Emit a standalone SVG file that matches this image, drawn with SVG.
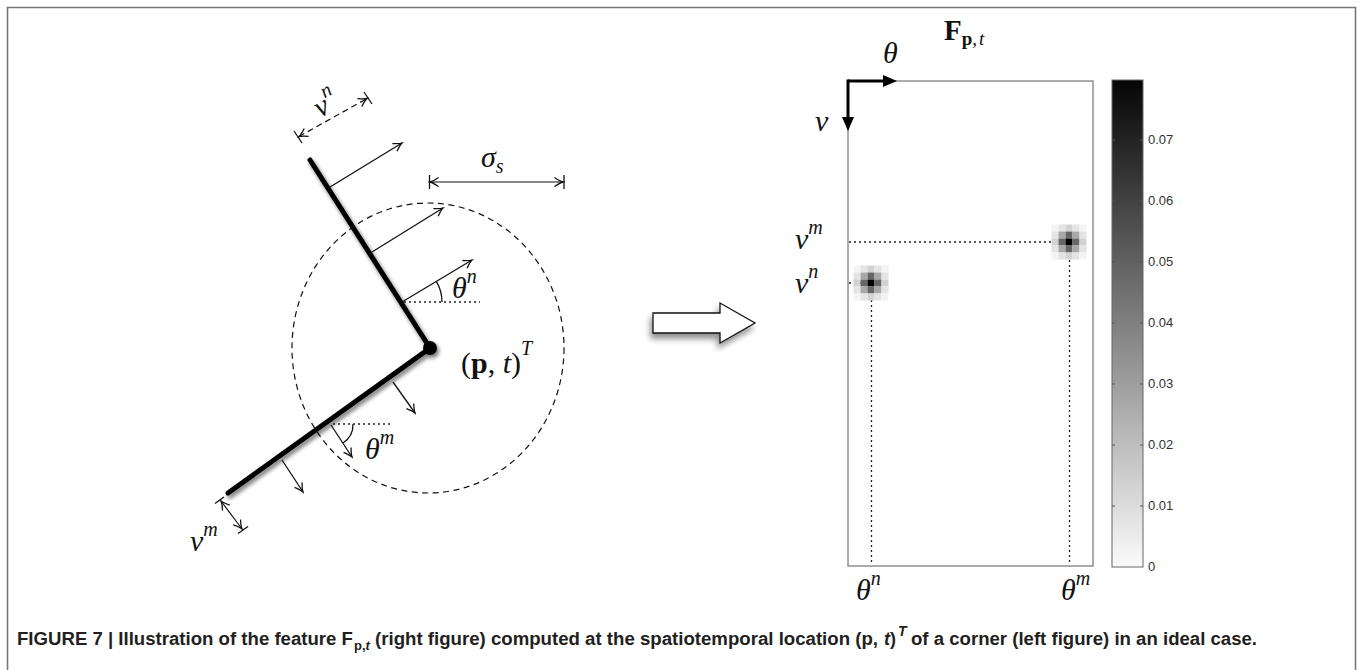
<svg xmlns="http://www.w3.org/2000/svg" width="1360" height="670" viewBox="0 0 1360 670">
<style>
.math{font-family:"Liberation Serif","DejaVu Serif",serif;font-style:italic;font-size:30px;fill:#111}
.sup{font-size:20px}
.thin{stroke:#111;stroke-width:1.3;fill:none}
.arr{stroke:#111;stroke-width:1.3;fill:none;marker-end:url(#head)}
.dbl{stroke:#111;stroke-width:1.2;fill:none;marker-start:url(#head);marker-end:url(#head)}
.dot{stroke:#222;stroke-width:1.3;fill:none;stroke-dasharray:2,3}
.seg{stroke:#000;stroke-width:5;stroke-linecap:round;fill:none}
.tick{font-family:"Liberation Sans",Arial,sans-serif;font-size:13px;fill:#333}
.cap{font-family:"Liberation Sans",Arial,sans-serif;font-weight:bold;fill:#231f20}
</style>
<defs>
<marker id="head" viewBox="-10 -6 12 12" refX="0" refY="0" markerWidth="12" markerHeight="12" markerUnits="userSpaceOnUse" orient="auto-start-reverse">
<path d="M-8.5,-4.5 Q-3,-0.8 0,0 Q-3,0.8 -8.5,4.5" stroke="#111" stroke-width="1.3" fill="none"/>
</marker>
<marker id="bighead" viewBox="0 -6 14 12" refX="1" refY="0" markerWidth="14" markerHeight="12" markerUnits="userSpaceOnUse" orient="auto">
<path d="M0,-6 L14,0 L0,6 Z" fill="#000"/>
</marker>
<filter id="shadow" x="-20%" y="-20%" width="140%" height="140%">
<feGaussianBlur in="SourceAlpha" stdDeviation="2.2"/>
<feOffset dx="2" dy="3" result="b"/>
<feComponentTransfer><feFuncA type="linear" slope="0.55"/></feComponentTransfer>
<feMerge><feMergeNode/><feMergeNode in="SourceGraphic"/></feMerge>
</filter>
<filter id="shadow2" x="-20%" y="-40%" width="140%" height="190%">
<feGaussianBlur in="SourceAlpha" stdDeviation="3"/>
<feOffset dx="-2" dy="5"/>
<feComponentTransfer><feFuncA type="linear" slope="0.45"/></feComponentTransfer>
<feMerge><feMergeNode/><feMergeNode in="SourceGraphic"/></feMerge>
</filter>
<linearGradient id="cbar" x1="0" y1="0" x2="0" y2="1">
<stop offset="0" stop-color="#050505"/>
<stop offset="1" stop-color="#fbfbfb"/>
</linearGradient>
<g id="blob">
<rect x="-17.5" y="-17.5" width="7" height="7" fill="#f4f4f4"/>
<rect x="-10.5" y="-17.5" width="7" height="7" fill="#e4e4e4"/>
<rect x="-3.5" y="-17.5" width="7" height="7" fill="#d2d2d2"/>
<rect x="3.5" y="-17.5" width="7" height="7" fill="#e4e4e4"/>
<rect x="10.5" y="-17.5" width="7" height="7" fill="#f4f4f4"/>
<rect x="-17.5" y="-10.5" width="7" height="7" fill="#e4e4e4"/>
<rect x="-10.5" y="-10.5" width="7" height="7" fill="#a8a8a8"/>
<rect x="-3.5" y="-10.5" width="7" height="7" fill="#666"/>
<rect x="3.5" y="-10.5" width="7" height="7" fill="#a8a8a8"/>
<rect x="10.5" y="-10.5" width="7" height="7" fill="#e4e4e4"/>
<rect x="-17.5" y="-3.5" width="7" height="7" fill="#d2d2d2"/>
<rect x="-10.5" y="-3.5" width="7" height="7" fill="#666"/>
<rect x="-3.5" y="-3.5" width="7" height="7" fill="#000"/>
<rect x="3.5" y="-3.5" width="7" height="7" fill="#666"/>
<rect x="10.5" y="-3.5" width="7" height="7" fill="#d2d2d2"/>
<rect x="-17.5" y="3.5" width="7" height="7" fill="#e4e4e4"/>
<rect x="-10.5" y="3.5" width="7" height="7" fill="#a8a8a8"/>
<rect x="-3.5" y="3.5" width="7" height="7" fill="#666"/>
<rect x="3.5" y="3.5" width="7" height="7" fill="#a8a8a8"/>
<rect x="10.5" y="3.5" width="7" height="7" fill="#e4e4e4"/>
<rect x="-17.5" y="10.5" width="7" height="7" fill="#f4f4f4"/>
<rect x="-10.5" y="10.5" width="7" height="7" fill="#e4e4e4"/>
<rect x="-3.5" y="10.5" width="7" height="7" fill="#d2d2d2"/>
<rect x="3.5" y="10.5" width="7" height="7" fill="#e4e4e4"/>
<rect x="10.5" y="10.5" width="7" height="7" fill="#f4f4f4"/>
</g>
</defs>
<rect width="1360" height="670" fill="#fff"/>
<path d="M7.5,670 V7.5 H1355.5 V670" stroke="#777" stroke-width="1.6" fill="none"/>

<g id="corner">
<ellipse cx="428" cy="348" rx="136" ry="145" stroke="#111" stroke-width="1.2" fill="none" stroke-dasharray="6,4.5"/>
<g filter="url(#shadow)">
<path class="seg" d="M310,160 L430,348 L228,493"/>
<circle cx="430" cy="348" r="7" fill="#000"/>
</g>
</g>

<g id="normals-n">
<line class="arr" x1="330" y1="187" x2="402" y2="143"/>
<line class="arr" x1="372" y1="252" x2="443" y2="208"/>
<line class="arr" x1="402" y1="302" x2="472" y2="260"/>
<line class="dot" x1="404" y1="302" x2="480" y2="302"/>
<path class="thin" d="M442,302 A40,40 0 0 0 436.3,281.4"/>
<text class="math" x="452" y="298">θ<tspan class="sup" dy="-15">n</tspan></text>
</g>

<g id="normals-m">
<line class="arr" x1="393" y1="382" x2="415" y2="413"/>
<line class="arr" x1="331" y1="425" x2="352" y2="457"/>
<line class="arr" x1="282" y1="460" x2="303" y2="492"/>
<line class="dot" x1="333" y1="424" x2="391" y2="424"/>
<path class="thin" d="M353,424 A22,22 0 0 1 343,443"/>
<text class="math" x="365" y="459">θ<tspan class="sup" dy="-15">m</tspan></text>
</g>

<g id="dim-vn">
<line class="dbl" x1="299" y1="136.5" x2="367" y2="98.5" stroke-dasharray="6,4"/>
<line class="thin" x1="294" y1="131" x2="302" y2="143"/>
<line class="thin" x1="364" y1="92" x2="372" y2="104"/>
<text class="math" x="0" y="0" transform="translate(320,118) rotate(-29)">v<tspan class="sup" dy="-15">n</tspan></text>
</g>

<g id="dim-vm">
<line class="dbl" x1="221" y1="501" x2="242" y2="529"/>
<line class="thin" x1="215" y1="503.5" x2="224" y2="497"/>
<line class="thin" x1="238" y1="533.5" x2="248" y2="526.5"/>
<text class="math" x="190" y="551">v<tspan class="sup" dy="-15">m</tspan></text>
</g>

<g id="dim-sigma">
<line class="dbl" x1="430" y1="182" x2="563" y2="182"/>
<line class="thin" x1="429.5" y1="175" x2="429.5" y2="189"/>
<line class="thin" x1="564" y1="175" x2="564" y2="189"/>
<text class="math" x="481" y="167">σ<tspan class="sup" dy="6">s</tspan></text>
</g>

<text class="math" x="461" y="373" style="font-style:normal">(<tspan font-weight="bold">p</tspan>, <tspan style="font-style:italic">t</tspan>)<tspan class="sup" style="font-style:italic" dy="-18">T</tspan></text>

<g id="big-arrow" filter="url(#shadow2)">
<polygon points="653,313 720,313 720,303 755,323 720,343 720,333 653,333" fill="#fff" stroke="#111" stroke-width="1.3" stroke-linejoin="miter"/>
</g>

<g id="plot">
<rect x="848" y="81" width="245" height="485" fill="#fff" stroke="#888" stroke-width="1.4"/>
<line class="dot" x1="849" y1="242" x2="1064" y2="242"/>
<line class="dot" x1="849" y1="283" x2="866" y2="283"/>
<line class="dot" x1="871.5" y1="290" x2="871.5" y2="565"/>
<line class="dot" x1="1069.5" y1="250" x2="1069.5" y2="565"/>
<use href="#blob" x="871" y="283"/>
<use href="#blob" x="1069" y="242"/>
<path d="M848,81 H884" stroke="#000" stroke-width="3" fill="none" marker-end="url(#bighead)"/>
<path d="M848,79.5 V118" stroke="#000" stroke-width="3" fill="none" marker-end="url(#bighead)"/>
<text class="math" x="883" y="63">θ</text>
<text class="math" x="815" y="131">v</text>
<text class="math" x="795" y="249">v<tspan class="sup" dy="-15">m</tspan></text>
<text class="math" x="795" y="293">v<tspan class="sup" dy="-15">n</tspan></text>
<text class="math" x="856" y="600">θ<tspan class="sup" dy="-15">n</tspan></text>
<text class="math" x="1061" y="600">θ<tspan class="sup" dy="-15">m</tspan></text>
<text x="944" y="40" style="font-family:'Liberation Serif','DejaVu Serif',serif;font-size:29px;font-weight:bold;fill:#111">F<tspan dy="5" style="font-size:19px">p<tspan style="font-weight:normal">,</tspan><tspan style="font-weight:normal;font-style:italic" dx="2">t</tspan></tspan></text>
</g>

<g id="colorbar">
<rect x="1112" y="80" width="31" height="487" fill="url(#cbar)" stroke="#666" stroke-width="1"/>
<path d="M1140,140 h3 M1140,201 h3 M1140,262 h3 M1140,323 h3 M1140,384 h3 M1140,445 h3 M1140,506 h3 M1112,140 h3 M1112,201 h3 M1112,262 h3 M1112,323 h3 M1112,384 h3 M1112,445 h3 M1112,506 h3" stroke="#555" stroke-width="1"/>
<text class="tick" x="1148" y="144">0.07</text>
<text class="tick" x="1148" y="205">0.06</text>
<text class="tick" x="1148" y="266">0.05</text>
<text class="tick" x="1148" y="327">0.04</text>
<text class="tick" x="1148" y="388">0.03</text>
<text class="tick" x="1148" y="449">0.02</text>
<text class="tick" x="1148" y="510">0.01</text>
<text class="tick" x="1148" y="571">0</text>
</g>

<g id="caption">
<text class="cap" x="17" y="645" style="font-size:18px" textLength="336" lengthAdjust="spacingAndGlyphs">FIGURE 7 | Illustration of the feature F</text>
<text class="cap" x="354" y="650" style="font-size:13px">p,<tspan style="font-style:italic">t</tspan></text>
<text class="cap" x="375" y="645" style="font-size:18px" textLength="503" lengthAdjust="spacingAndGlyphs">(right figure) computed at the spatiotemporal location (p,</text>
<text class="cap" x="884" y="645" style="font-size:18px"><tspan style="font-style:italic">t</tspan>)</text>
<text class="cap" x="898" y="636" style="font-size:14px;font-style:italic">T</text>
<text class="cap" x="911" y="645" style="font-size:18px" textLength="346" lengthAdjust="spacingAndGlyphs">of a corner (left figure) in an ideal case.</text>
</g>
</svg>
